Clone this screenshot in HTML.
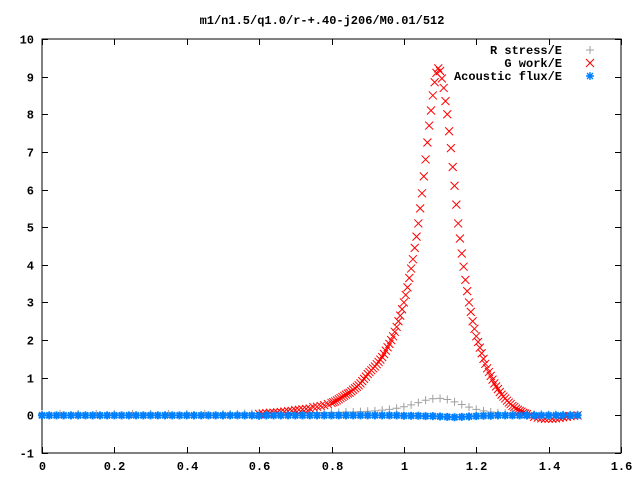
<!DOCTYPE html>
<html><head><meta charset="utf-8"><style>
html,body{margin:0;padding:0;background:#fff;}
svg{display:block;font-family:"Liberation Mono","DejaVu Sans Mono",monospace;font-size:12px;font-weight:bold;}
</style></head><body>
<svg id="chart" width="640" height="480" viewBox="0 0 640 480" xmlns="http://www.w3.org/2000/svg">
<rect width="640" height="480" fill="#fff"/>
<text x="322" y="24" text-anchor="middle">m1/n1.5/q1.0/r-+.40-j206/M0.01/512</text>
<g id="axes"></g>
<g id="marks"></g>
<g id="legend">
<text x="562" y="54" text-anchor="end">R stress/E</text>
<text x="562" y="67" text-anchor="end">G work/E</text>
<text x="562" y="80" text-anchor="end">Acoustic flux/E</text>
</g>
</svg>
<script>
const xTicks=[0,0.2,0.4,0.6,0.8,1,1.2,1.4,1.6];
const xTickLabels=["0","0.2","0.4","0.6","0.8","1","1.2","1.4","1.6"];
const yTicks=[-1,0,1,2,3,4,5,6,7,8,9,10];
const yTickLabels=["-1","0","1","2","3","4","5","6","7","8","9","10"];
const gX=[0.60,0.61,0.62,0.63,0.64,0.65,0.66,0.67,0.68,0.69,0.70,0.71,0.72,0.73,0.74,0.75,0.76,0.77,0.78,0.79,0.80,
0.805,0.81,0.815,0.82,0.825,0.83,0.835,0.84,0.845,0.85,0.855,0.86,0.865,0.87,0.875,0.88,0.885,0.89,0.895,0.90,0.905,0.91,0.915,0.92,0.925,0.93,0.935,0.94,0.945,0.95,0.955,0.96,0.965,0.97,0.975,0.98,0.985,0.99,0.995,
1.000,1.005,1.010,1.015,1.020,1.025,1.030,1.035,1.040,1.045,1.050,1.055,1.060,1.065,1.070,1.075,1.080,1.085,1.090,1.095,1.100,1.105,1.110,1.115,1.120,1.125,1.130,1.135,1.140,1.145,1.150,1.155,1.160,1.165,1.170,1.175,1.180,1.185,1.190,1.195,1.200,
1.205,1.21,1.215,1.22,1.225,1.23,1.235,1.24,1.245,1.25,1.255,1.26,1.265,1.27,1.275,1.28,1.285,1.29,1.295,1.30,1.305,1.31,1.315,1.32,1.325,1.33,1.335,1.34,1.35,1.36,1.37,1.38,1.39,1.40,1.41,1.42,1.43,1.44,1.45,1.46,1.47,1.48];
const gWork=[0.04,0.05,0.06,0.07,0.07,0.08,0.09,0.10,0.11,0.12,0.14,0.15,0.16,0.17,0.18,0.22,0.23,0.25,0.27,0.30,0.33,
0.35,0.37,0.40,0.43,0.46,0.49,0.52,0.55,0.58,0.6,0.64,0.68,0.72,0.76,0.80,0.85,0.91,0.97,1.03,1.1,1.15,1.2,1.25,1.3,1.36,1.42,1.48,1.55,1.63,1.72,1.81,1.9,2.0,2.1,2.22,2.35,2.5,2.65,2.82,
3.0,3.2,3.4,3.65,3.9,4.15,4.45,4.75,5.1,5.5,5.9,6.35,6.8,7.25,7.7,8.1,8.5,8.85,9.1,9.22,9.15,8.95,8.7,8.35,8.0,7.55,7.1,6.6,6.1,5.6,5.1,4.7,4.3,3.95,3.6,3.3,3.0,2.75,2.5,2.3,2.1,
1.95,1.8,1.65,1.5,1.37,1.25,1.15,1.05,0.95,0.85,0.77,0.7,0.62,0.55,0.5,0.45,0.39,0.34,0.3,0.25,0.22,0.18,0.15,0.12,0.1,0.07,0.05,0.03,0,-0.04,-0.06,-0.08,-0.09,-0.09,-0.09,-0.08,-0.07,-0.05,-0.04,-0.02,-0.01,0];
const rX=[0,0.05,0.1,0.15,0.2,0.25,0.3,0.35,0.4,0.45,0.5,
0.52,0.54,0.56,0.58,0.60,0.62,0.64,0.66,0.68,0.70,
0.72,0.74,0.76,0.78,0.80,0.82,0.84,0.86,0.88,0.90,
0.92,0.94,0.96,0.98,1.00,1.02,1.04,1.06,1.08,1.10,
1.12,1.14,1.16,1.18,1.20,1.22,1.24,1.26,1.28,1.30,
1.32,1.34,1.36,1.38,1.40,1.42,1.44,1.46,1.48];
const rStress=[0.04,0.04,0.04,0.04,0.04,0.04,0.04,0.04,0.04,0.04,0.04,
0.04,0.04,0.05,0.05,0.05,0.05,0.05,0.06,0.06,0.06,
0.06,0.07,0.07,0.08,0.08,0.08,0.09,0.09,0.10,0.11,
0.12,0.14,0.16,0.19,0.23,0.28,0.34,0.40,0.44,0.45,
0.42,0.36,0.29,0.22,0.16,0.12,0.09,0.07,0.06,0.05,
0.04,0.04,0.03,0.03,0.02,0.02,0.02,0.02,0.02];
const aX=[0,0.02,0.04,0.06,0.08,0.1,0.12,0.14,0.16,0.18,0.2,0.22,0.24,0.26,0.28,0.3,0.32,0.34,0.36,0.38,0.4,0.42,0.44,0.46,0.48,0.5,0.52,0.54,0.56,0.58,0.6,0.62,0.64,0.66,0.68,0.7,0.72,0.74,0.76,0.78,0.8,0.82,0.84,0.86,0.88,0.9,0.92,0.94,0.96,0.98,1.0,1.02,1.04,1.06,1.08,1.1,1.12,1.14,1.16,1.18,1.2,1.22,1.24,1.26,1.28,1.3,1.32,1.34,1.36,1.38,1.4,1.42,1.44,1.46,1.48];
const aFlux=[0,0,0,0,0,0,0,0,0,0,0,0,0,0,0,0,0,0,0,0,0,0,0,0,0,0,0,0,0,0,-0.01,0,0,0,0,0,0,0,0,0,0,0,0,0,0,0,0,0,0,0,-0.01,-0.01,-0.01,-0.02,-0.02,-0.03,-0.04,-0.05,-0.04,-0.03,-0.02,-0.01,-0.01,0,0,0,0,0,0,0,0,0,0,0,0];

const L=42,R=621,T=39,B=453,xMin=0,xMax=1.6,yMin=-1,yMax=10;
const sx=v=>L+(v-xMin)/(xMax-xMin)*(R-L);
const sy=v=>B-(v-yMin)/(yMax-yMin)*(B-T);
const NS="http://www.w3.org/2000/svg";
const axes=document.getElementById('axes'),marks=document.getElementById('marks'),legend=document.getElementById('legend');
function mk(tag,attrs,parent){const e=document.createElementNS(NS,tag);for(const k in attrs)e.setAttribute(k,attrs[k]);parent.appendChild(e);return e;}
const frame=mk('rect',{x:L,y:T,width:R-L,height:B-T,fill:'none',stroke:'#000','stroke-width':1},axes);


xTicks.forEach((v,i)=>{const x=Math.round(sx(v))+0.5;
 const t=mk('path',{d:`M${x} ${B}v-6M${x} ${T}v6`,stroke:'#000','stroke-width':1},axes);
 
 
 const lb=mk('text',{x:x,y:470,'text-anchor':'middle'},axes);lb.textContent=xTickLabels[i];
 
 });
yTicks.forEach((v,i)=>{const y=Math.round(sy(v))+0.5;
 const t=mk('path',{d:`M${L} ${y}h6M${R} ${y}h-6`,stroke:'#000','stroke-width':1},axes);
 
 
 const lb=mk('text',{x:34,y:y+4,'text-anchor':'end'},axes);lb.textContent=yTickLabels[i];
 
 });
function plus(x,y,c,p){return mk('path',{d:`M${x-4} ${y}h8M${x} ${y-4}v8`,stroke:c,'stroke-width':1,fill:'none'},p);}
function cross(x,y,c,p){return mk('path',{d:`M${x-4} ${y-4}l8 8M${x-4} ${y+4}l8 -8`,stroke:c,'stroke-width':1,fill:'none'},p);}
function star(x,y,c,p,w){return mk('path',{d:`M${x-4} ${y}h8M${x} ${y-4}v8M${x-3} ${y-3}l6 6M${x-3} ${y+3}l6 -6`,stroke:c,'stroke-width':w,fill:'none'},p);}
rX.forEach((v,i)=>{const e=plus(sx(v),sy(rStress[i]),'#a0a0a0',marks);
 
 });
gX.forEach((v,i)=>{const e=cross(sx(v),sy(gWork[i]),'#ff0000',marks);
 
 });
aX.forEach((v,i)=>{const e=star(sx(v),sy(aFlux[i]),'#0080ff',marks,2);
 
 });
const m1=plus(590,50,'#a0a0a0',legend);


const m2=cross(590,63,'#ff0000',legend);


const m3=star(590,76,'#0080ff',legend,1.4);


</script>
</body></html>
